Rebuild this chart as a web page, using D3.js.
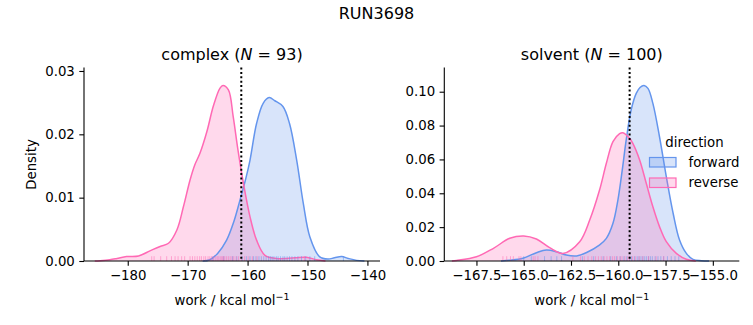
<!DOCTYPE html>
<html>
<head>
<meta charset="utf-8">
<script src="https://cdn.jsdelivr.net/npm/d3@7"></script>
<style>
  body { margin: 0; background: #fff; }
  text { font-family: "DejaVu Sans", sans-serif; fill: #000; }
</style>
</head>
<body>
<svg id="chart" width="753" height="325"></svg>
<script>
// ---------- data ----------
const suptitle = "RUN3698";
const directions = ["forward", "reverse"];
const colors = {forward: "#6495ED", reverse: "#FF69B4"};

// complex panel: KDE curve samples (work, density)
const complexFwdX = [-167.5, -166.3, -165.0, -163.5, -162.3, -161.1, -160.3, -159.6, -158.5, -157.4, -156.4, -155.45, -154.1, -153.0, -151.8, -150.7, -149.6, -148.0, -146.6, -145.5, -144.3, -143.2, -141.8, -140.5];
const complexFwdY = [0, 0.0002, 0.0012, 0.0033, 0.0062, 0.0102, 0.0130, 0.0159, 0.0217, 0.0249, 0.0258, 0.0253, 0.0244, 0.0217, 0.0159, 0.0091, 0.0038, 0.0007, 0.0003, 0.0005, 0.0007, 0.0004, 0.0001, 0];
const complexRevX = [-185.5, -184.6, -183.0, -181.8, -180.2, -178.2, -176.3, -174.6, -173.2, -171.8, -170.7, -169.6, -168.8, -167.95, -166.8, -165.7, -164.6, -164.1, -163.2, -162.4, -161.6, -160.7, -159.6, -158.5, -157.1, -155.2, -153.5, -152.0, -150.2, -148.5, -147.0];
const complexRevY = [0, 0.00005, 0.0002, 0.0004, 0.0007, 0.0008, 0.0016, 0.0023, 0.0028, 0.0049, 0.0086, 0.0128, 0.0152, 0.0170, 0.0204, 0.0245, 0.0273, 0.0277, 0.0270, 0.0228, 0.0175, 0.0123, 0.0070, 0.0033, 0.0009, 0.0004, 0.0004, 0.0005, 0.0006, 0.0002, 0];
// complex panel: rug samples
const complexFwdRug = [-165.8, -164.0, -162.5, -161.8, -160.9, -160.2, -159.6, -159.0, -158.6, -158.1, -157.7, -157.3, -156.9, -156.5, -156.2, -155.9, -155.6, -155.2, -154.9, -154.5, -154.1, -153.8, -153.4, -153.0, -152.6, -152.1, -151.6, -151.0, -150.3, -149.6, -148.8, -144.0];
const complexRevRug = [-176.0, -175.6, -174.5, -173.5, -172.7, -172.1, -171.6, -171.0, -170.5, -169.6, -169.2, -168.8, -168.4, -168.0, -167.7, -167.3, -167.0, -166.6, -166.3, -166.0, -165.7, -165.4, -165.1, -164.9, -164.6, -164.4, -164.2, -164.0, -163.8, -163.5, -163.2, -162.9, -162.6, -162.3, -161.9, -161.5, -161.0, -160.5, -159.9, -159.2, -158.4, -150.5];

// solvent panel: KDE curve samples
const solventFwdX = [-166.2, -165.74, -165.04, -164.33, -163.8, -163.27, -162.75, -162.2, -161.7, -161.0, -160.63, -160.28, -160.02, -159.79, -159.58, -159.32, -159.05, -158.85, -158.64, -158.43, -158.17, -157.82, -157.46, -157.1, -156.76, -156.4, -156.05, -155.6, -155.2];
const solventFwdY = [0, 0.0004, 0.0016, 0.0049, 0.0065, 0.0055, 0.0035, 0.0030, 0.0049, 0.0094, 0.0134, 0.0223, 0.0360, 0.0537, 0.0715, 0.0892, 0.0990, 0.1025, 0.1037, 0.1020, 0.0931, 0.0734, 0.0498, 0.0282, 0.0124, 0.0045, 0.0010, 0.0002, 0];
const solventRevX = [-168.8, -168.56, -167.5, -166.6, -165.74, -165.0, -164.33, -163.63, -162.93, -162.04, -161.51, -160.99, -160.63, -160.28, -159.93, -159.76, -159.4, -159.23, -158.87, -158.52, -158.17, -157.82, -157.46, -156.93, -156.4, -155.9];
const solventRevY = [0, 0.0003, 0.0025, 0.0075, 0.0134, 0.0148, 0.0130, 0.0079, 0.0045, 0.0114, 0.0242, 0.0419, 0.0577, 0.0705, 0.0752, 0.0758, 0.0725, 0.0695, 0.0597, 0.0459, 0.0320, 0.0203, 0.0114, 0.0045, 0.0010, 0];
const solventFwdRug = [-165.0, -164.6, -163.9, -163.55, -163.25, -163.0, -161.9, -161.3, -160.8, -160.4, -160.1, -159.9, -159.7, -159.55, -159.4, -159.3, -159.15, -159.0, -158.9, -158.8, -158.7, -158.6, -158.5, -158.4, -158.3, -158.2, -158.05, -157.9, -157.75, -157.6, -157.4, -157.2, -157.0, -156.8];
const solventRevRug = [-166.1, -165.9, -165.7, -165.55, -165.25, -165.15, -164.5, -164.4, -164.25, -162.4, -162.0, -161.8, -161.6, -161.4, -161.2, -161.05, -160.9, -160.75, -160.6, -160.45, -160.3, -160.2, -160.05, -159.9, -159.8, -159.65, -159.5, -159.4, -159.25, -159.1, -158.9, -158.7, -158.4, -158.0, -157.6];

// reference lines, ticks, labels
const complexVLine = -161.05;
const solventVLine = -159.4;
const complexXTicks = [-180, -170, -160, -150, -140];
const complexYTicks = [0, 0.01, 0.02, 0.03];
const solventXTicks = [-167.5, -165.0, -162.5, -160.0, -157.5, -155.0];
const solventYTicks = [0, 0.02, 0.04, 0.06, 0.08, 0.10];
const panelNames = ["complex", "solvent"];
const panelN = [93, 100];

// ---------- drawing ----------
const svg = d3.select("#chart");
const plotTop = 67.5, plotBottom = 261;

svg.append("text").attr("x", 376.5).attr("y", 19).attr("text-anchor", "middle")
  .style("font-size", "16px").text(suptitle);

function panel(cfg) {
  const x = d3.scaleLinear().domain(cfg.xDomain).range([cfg.left, cfg.right]);
  const y = d3.scaleLinear().domain(cfg.yDomain).range([plotBottom, plotTop]);
  const g = svg.append("g");

  const series = [
    {dir: "forward", xs: cfg.fwdX, ys: cfg.fwdY, rug: cfg.fwdRug},
    {dir: "reverse", xs: cfg.revX, ys: cfg.revY, rug: cfg.revRug}
  ];
  const area = d3.area().x(d => x(d[0])).y0(y(0)).y1(d => y(Math.max(0, d[1])))
    .curve(d3.curveCatmullRom.alpha(0.5));
  const line = d3.line().x(d => x(d[0])).y(d => y(Math.max(0, d[1])))
    .curve(d3.curveCatmullRom.alpha(0.5));

  series.forEach(s => {
    const pts = s.xs.map((v, i) => [v, s.ys[i]]);
    g.append("path").attr("d", area(pts)).attr("fill", colors[s.dir]).attr("fill-opacity", 0.25);
  });
  series.forEach(s => {
    const pts = s.xs.map((v, i) => [v, s.ys[i]]);
    g.append("path").attr("d", line(pts)).attr("fill", "none")
      .attr("stroke", colors[s.dir]).attr("stroke-width", 1.5);
  });
  series.forEach(s => {
    g.append("g").selectAll("line").data(s.rug).join("line")
      .attr("x1", d => x(d)).attr("x2", d => x(d))
      .attr("y1", plotBottom).attr("y2", plotBottom - 4.8)
      .attr("stroke", colors[s.dir]).attr("stroke-opacity", 0.5).attr("stroke-width", 1);
  });

  // vertical dotted line
  g.append("line").attr("x1", x(cfg.vline)).attr("x2", x(cfg.vline))
    .attr("y1", plotTop).attr("y2", plotBottom)
    .attr("stroke", "#000").attr("stroke-width", 2).attr("stroke-dasharray", "2,2.4");

  // axes
  const xa = d3.axisBottom(x).tickValues(cfg.xTicks).tickFormat(d3.format(cfg.xFmt))
    .tickSize(4.7).tickPadding(4.5).tickSizeOuter(0);
  const ya = d3.axisLeft(y).tickValues(cfg.yTicks).tickFormat(d3.format(".2f"))
    .tickSize(4.7).tickPadding(4.5).tickSizeOuter(0);
  const gx = svg.append("g").attr("transform", `translate(0,${plotBottom})`).call(xa);
  const gy = svg.append("g").attr("transform", `translate(${cfg.left},0)`).call(ya);
  [gx, gy].forEach(a => {
    a.select(".domain").attr("stroke", "#000").attr("stroke-width", 1.1);
    a.selectAll(".tick line").attr("stroke", "#000").attr("stroke-width", 1.1);
    a.selectAll(".tick text").style("font-size", "13.3px").style("font-family", "DejaVu Sans").attr("fill", "#000");
  });
  gx.select(".domain").attr("d", `M${cfg.left},0H${cfg.right}`);
  gy.select(".domain").attr("d", `M0,${plotBottom}V${plotTop}`);

  // title
  const cx = (cfg.left + cfg.right) / 2;
  const t = svg.append("text").attr("x", cx).attr("y", 60).attr("text-anchor", "middle")
    .style("font-size", "16px");
  t.append("tspan").text(cfg.name + " (");
  t.append("tspan").style("font-style", "italic").text("N");
  t.append("tspan").text(" = " + cfg.n + ")");

  // x label
  const xl = svg.append("text").attr("x", cx).attr("y", 305).attr("text-anchor", "middle")
    .style("font-size", "13.3px");
  xl.append("tspan").text("work / kcal mol");
  xl.append("tspan").attr("dy", -5).style("font-size", "9.5px").text("\u22121");
}

panel({
  name: panelNames[0], n: panelN[0], left: 84, right: 380,
  xDomain: [-187.3, -137.9], yDomain: [0, 0.03055],
  fwdX: complexFwdX, fwdY: complexFwdY, revX: complexRevX, revY: complexRevY,
  fwdRug: complexFwdRug, revRug: complexRevRug, vline: complexVLine,
  xTicks: complexXTicks, yTicks: complexYTicks, xFmt: "d"
});
panel({
  name: panelNames[1], n: panelN[1], left: 444.3, right: 739.3,
  xDomain: [-169.2, -153.6], yDomain: [0, 0.1143],
  fwdX: solventFwdX, fwdY: solventFwdY, revX: solventRevX, revY: solventRevY,
  fwdRug: solventFwdRug, revRug: solventRevRug, vline: solventVLine,
  xTicks: solventXTicks, yTicks: solventYTicks, xFmt: ".1f"
});

// y label (left panel only)
svg.append("text").attr("transform", "translate(35.5,164.5) rotate(-90)")
  .attr("text-anchor", "middle").style("font-size", "13.3px").text("Density");

// legend
const lg = svg.append("g");
lg.append("text").attr("x", 694.5).attr("y", 146.5).attr("text-anchor", "middle")
  .style("font-size", "13.3px").text("direction");
directions.forEach((d, i) => {
  const yy = 157.5 + i * 20.5;
  lg.append("rect").attr("x", 649.5).attr("y", yy).attr("width", 26.5).attr("height", 9.5)
    .attr("fill", colors[d]).attr("fill-opacity", 0.25)
    .attr("stroke", colors[d]).attr("stroke-width", 1.2);
  lg.append("text").attr("x", 688.5).attr("y", yy + 9.3).style("font-size", "13.3px").text(d);
});
</script>
</body>
</html>
